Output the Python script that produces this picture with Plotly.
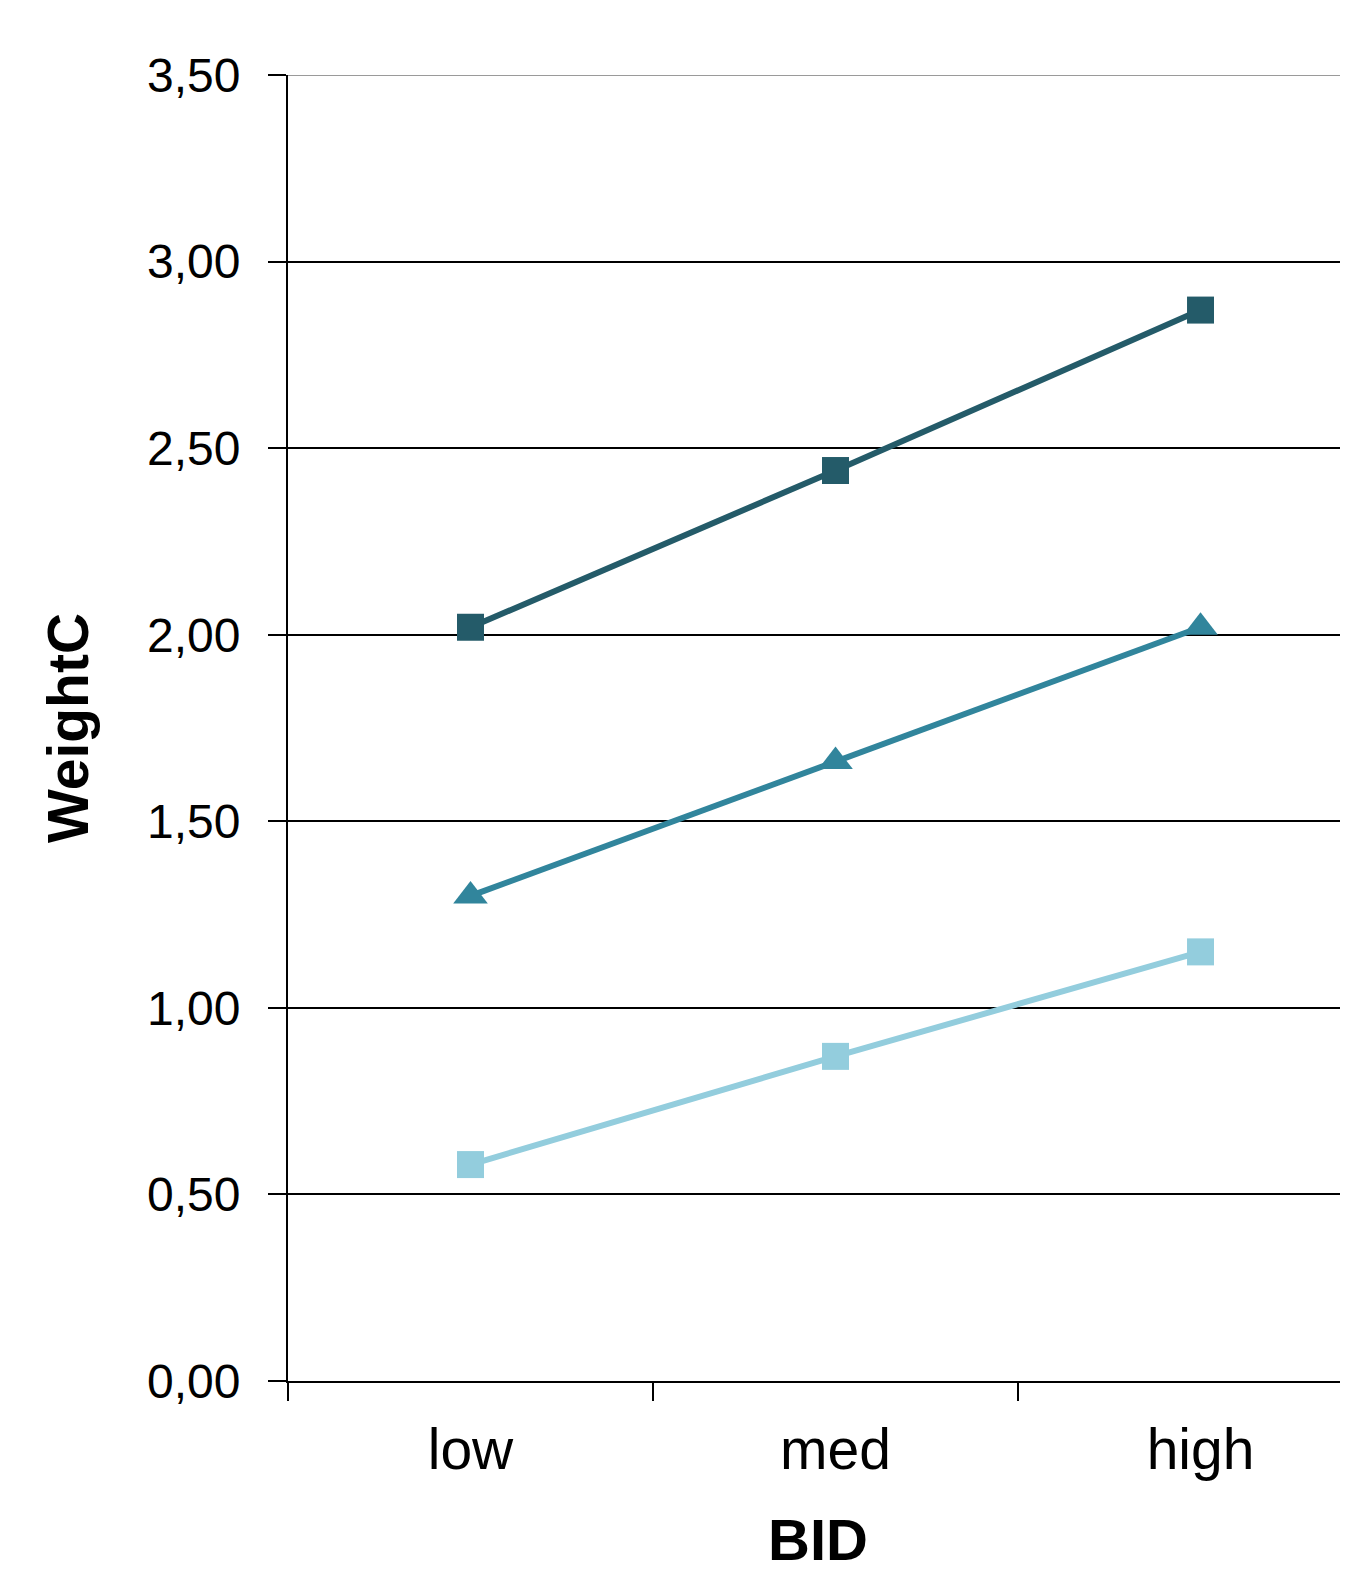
import plotly.graph_objects as go

categories = ["low", "med", "high"]
series_dark = [2.02, 2.44, 2.87]
series_mid = [1.30, 1.66, 2.02]
series_light = [0.58, 0.87, 1.15]
y_ticks = [0, 0.5, 1.0, 1.5, 2.0, 2.5, 3.0, 3.5]

fig = go.Figure()
fig.add_trace(go.Scatter(x=categories, y=series_dark, mode="lines+markers",
                         line=dict(color="#245B69", width=6),
                         marker=dict(symbol="square", size=27, color="#245B69")))
fig.add_trace(go.Scatter(x=categories, y=series_mid, mode="lines+markers",
                         line=dict(color="#31859C", width=6),
                         marker=dict(symbol="triangle-up", size=30, color="#31859C")))
fig.add_trace(go.Scatter(x=categories, y=series_light, mode="lines+markers",
                         line=dict(color="#93CDDD", width=6),
                         marker=dict(symbol="square", size=27, color="#93CDDD")))

fig.update_layout(
    width=1340, height=1564,
    margin=dict(l=280, r=0, t=67, b=191, pad=0, autoexpand=False),
    paper_bgcolor="white", plot_bgcolor="white",
    showlegend=False,
    separators=", ",
    font=dict(family="Liberation Sans, Arial, sans-serif", color="black"),
    xaxis=dict(
        type="category", range=[-0.5, 2.404], automargin=False,
        showgrid=False, showline=True, linecolor="black", linewidth=2,
        ticks="outside", tickson="boundaries", ticklen=18, tickwidth=2, tickcolor="black",
        tickfont=dict(size=57), ticklabelstandoff=18,
        title=dict(text="<b>BID</b>", font=dict(size=58), standoff=56),
    ),
    yaxis=dict(
        range=[0, 3.5], tickvals=y_ticks, tickformat=".2f", automargin=False,
        showgrid=True, gridcolor="black", gridwidth=2,
        zeroline=False, showline=True, linecolor="black", linewidth=2,
        ticks="outside", ticklen=18, tickwidth=2, tickcolor="black",
        tickfont=dict(size=48), ticklabelstandoff=18,
        title=dict(text="<b>WeightC</b>", font=dict(size=57), standoff=40),
    ),
)
fig.add_shape(type="line", xref="paper", yref="y", x0=0, x1=1, y0=3.5, y1=3.5,
              line=dict(color="#9a9a9a", width=2), layer="above")

fig.write_html("out.html")
